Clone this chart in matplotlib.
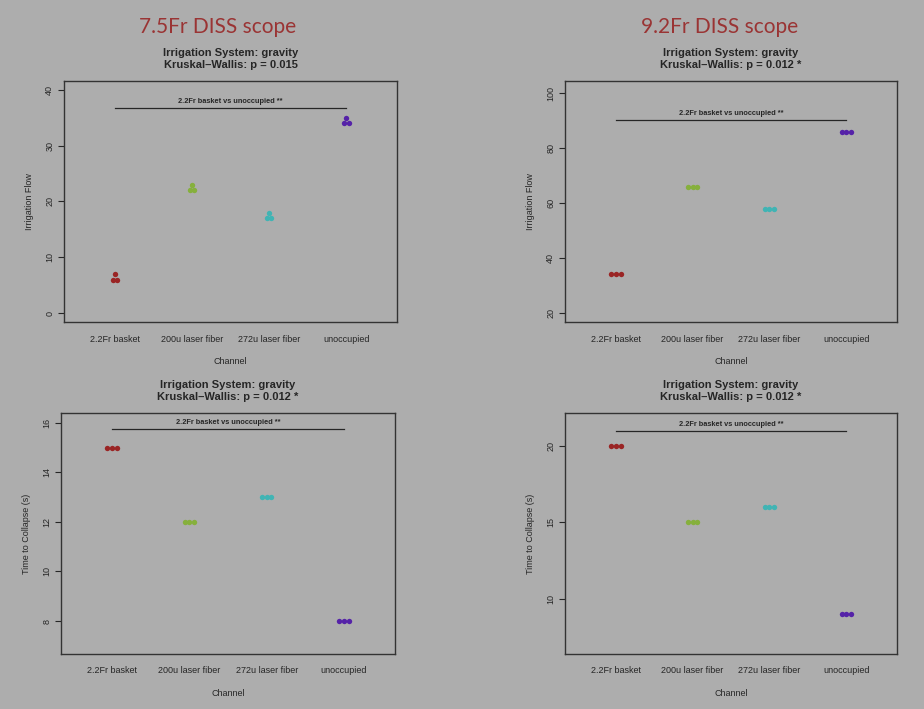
import matplotlib
matplotlib.use('Agg')
import matplotlib.pyplot as plt
import numpy as np

# 数据
channels = ['2.2Fr basket', '200u laser fiber', '272u laser fiber', 'unoccupied']
flow_75 = [[7, 6, 6], [23, 22, 22], [18, 17, 17], [35, 34, 34]]
flow_92 = [[34, 34, 34], [66, 66, 66], [58, 58, 58], [86, 86, 86]]
collapse_75 = [[15, 15, 15], [12, 12, 12], [13, 13, 13], [8, 8, 8]]
collapse_92 = [[20, 20, 20], [15, 15, 15], [16, 16, 16], [9, 9, 9]]
scope_titles = ['7.5Fr DISS scope', '9.2Fr DISS scope']
p_flow = ['0.015', '0.012 *']
p_collapse = ['0.012 *', '0.012 *']
pair_label = '2.2Fr basket vs unoccupied **'

bg = '#adadad'
ink = '#262626'
colors = ['#9a2424', '#86b03c', '#40b4b4', '#5522a8']

plt.rcParams['font.family'] = ['Liberation Sans', 'DejaVu Sans']
fig = plt.figure(figsize=(9.24, 7.09), dpi=100, facecolor=bg)


def panel(rect, groups, ylim, yticks, ylabel, sub):
    ax = fig.add_axes(rect, facecolor=bg)
    for i, vals in enumerate(groups):
        # 相同数值的点横向排开
        xs = []
        for j, v in enumerate(vals):
            same = [k for k, w in enumerate(vals) if w == v]
            n = len(same)
            pos = same.index(j)
            xs.append(i + 1 + (pos - (n - 1) / 2) * 0.062)
        ax.scatter(xs, vals, s=15, color=colors[i], zorder=3, linewidths=0)
    top = max(max(g) for g in groups) * 1.05
    ax.plot([1, 4], [top, top], color=ink, lw=0.9)
    ax.annotate(pair_label, (2.5, top), xytext=(0, 2), textcoords='offset points',
                ha='center', va='bottom', fontsize=5.3, color=ink, fontweight='bold')
    ax.set_xlim(0.34, 4.66)
    ax.set_ylim(*ylim)
    ax.set_xticks([1, 2, 3, 4])
    ax.set_xticklabels(channels)
    ax.set_yticks(yticks)
    ax.tick_params(axis='x', length=0, pad=9, labelsize=6.5, colors=ink)
    ax.tick_params(axis='y', length=4, width=0.8, pad=3, labelsize=6.5, colors=ink)
    for t in ax.get_yticklabels():
        t.set_rotation(90)
        t.set_va('center')
    for s in ax.spines.values():
        s.set_color('#333333')
        s.set_linewidth(1.0)
    ax.set_xlabel('Channel', fontsize=6.5, color=ink, labelpad=10)
    ax.set_ylabel(ylabel, fontsize=6.5, color=ink, labelpad=8)
    ax.set_title('Irrigation System: gravity\nKruskal\u2013Wallis: p = ' + sub,
                 fontsize=8, fontweight='bold', color=ink, pad=9, linespacing=1.3)
    return ax


panel([0.0693, 0.5458, 0.3604, 0.340], flow_75, (-1.6, 41.6), [0, 10, 20, 30, 40],
      'Irrigation Flow', p_flow[0])
panel([0.6115, 0.5458, 0.3593, 0.340], flow_92, (16.7, 104.4), [20, 40, 60, 80, 100],
      'Irrigation Flow', p_flow[1])
panel([0.0660, 0.0776, 0.3615, 0.340], collapse_75, (6.67, 16.4), [8, 10, 12, 14, 16],
      'Time to Collapse (s)', p_collapse[0])
panel([0.6115, 0.0776, 0.3593, 0.340], collapse_92, (6.4, 22.16), [10, 15, 20],
      'Time to Collapse (s)', p_collapse[1])

# 大标题
fig.text(0.235, 0.962, scope_titles[0], ha='center', va='center', fontsize=15,
         color='#9a3434', family=['Lato', 'DejaVu Sans'])
fig.text(0.779, 0.962, scope_titles[1], ha='center', va='center', fontsize=15,
         color='#9a3434', family=['Lato', 'DejaVu Sans'])

fig.savefig('out.png', dpi=100, facecolor=bg)
